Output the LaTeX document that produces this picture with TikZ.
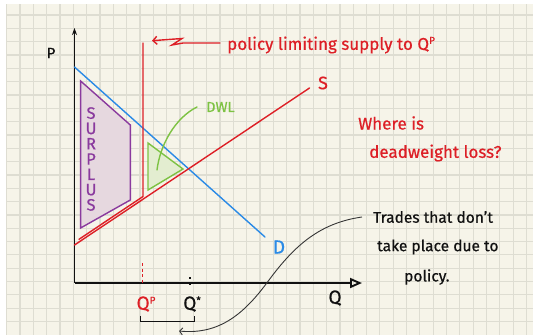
\documentclass[tikz,border=0pt]{standalone}
\usepackage{fontspec}
\setmainfont{Fira Sans}[UprightFeatures={FakeBold=0.6}]
\usepackage{tikz}
\usetikzlibrary{arrows.meta,positioning,calc}
\definecolor{Paper}{HTML}{F6F4E9}
\definecolor{GridLine}{HTML}{DEDDD2}
\definecolor{PenRed}{HTML}{DD1F26}
\definecolor{PenBlue}{HTML}{2A8AE6}
\definecolor{PenPurple}{HTML}{8A3A9E}
\definecolor{SoftPurple}{HTML}{E6D8DF}
\definecolor{PenGreen}{HTML}{7DC243}
\definecolor{SoftGreen}{HTML}{E3EDD0}
\definecolor{Ink}{HTML}{111111}
\newcommand{\handsize}[1]{\fontsize{#1}{#1}\selectfont}
\newcommand{\supscr}[1]{\raisebox{6pt}{\handsize{10}#1}}

\begin{document}
\begin{tikzpicture}[x=1pt,y=-1pt,
  hand/.style={inner sep=0pt,font=\handsize{17}},
  note/.style={hand,anchor=west},
  pen/.style={line width=1.4pt,line cap=round},
  axis/.style={line width=1.9pt,draw=Ink},
  pointer/.style={line width=0.9pt,draw=Ink!85}
]
\useasboundingbox (0,0) rectangle (533,335);
\fill[white] (0,0) rectangle (533,335);
\fill[Paper] (6,4) rectangle (533,335);
\foreach \k in {0,...,39}
  \draw[GridLine,line width=1.1pt] ({6.7+13.33*\k},4) -- ({6.7+13.33*\k},335);
\foreach \k in {0,...,23}
  \draw[GridLine,line width=1.1pt] (6,{15+13.33*\k}) -- (533,{15+13.33*\k});

\coordinate (origin) at (74.5,283);
\coordinate (ptop) at (74.5,28);
\coordinate (qend) at (362,283);
\coordinate (dstart) at (74.5,67);
\coordinate (dend) at (265,237);
\coordinate (sstart) at (74.5,245);
\coordinate (send) at (309.5,88);
\coordinate (captop) at (143,43);
\coordinate (capfoot) at (143,196.5);
\coordinate (capend) at (79,239.3);

\filldraw[fill=SoftPurple,draw=PenPurple,pen] (80.6,81) -- (130.3,125) -- (130.3,200) -- (80.6,228) -- cycle;
\filldraw[fill=SoftGreen,draw=PenGreen,pen] (148,143) -- (183,169) -- (148,190) -- cycle;

\draw[axis,-{Stealth[length=7pt,width=5pt]}] (origin) -- (ptop);
\draw[axis,-{Triangle[open,length=12pt,width=10pt]}] (origin) -- (qend);

\draw[pen,PenBlue] (dstart) -- (dend);
\draw[pen,PenRed] (sstart) -- (send);
\draw[pen,PenRed] (captop) -- (capfoot) -- (capend);

\node[hand,align=center,font=\fontsize{16.5}{15.3}\selectfont,text=PenPurple] (surplus) at (91,159) {S\\U\\R\\P\\L\\U\\S};

\node[hand,text=Ink,font=\handsize{15}] (plabel) at (51,53) {P};
\node[hand,text=Ink,font=\handsize{19}] (qlabel) at (335,298) {Q};
\node[hand,text=PenRed,font=\handsize{18}] (slabel) at (323,83) {S};
\node[hand,text=PenBlue,font=\handsize{19}] (dlabel) at (279,247) {D};
\node[hand,text=PenRed,font=\handsize{19}] (qp) at (146,304) {Q\supscr{P}};
\node[hand,text=Ink,font=\handsize{19}] (qstar) at (192,304) {Q\supscr{*}};

\draw[PenRed,line width=1.2pt,dash pattern=on 3pt off 2.5pt] (142.5,263) -- (142.5,283);
\draw[Ink,line width=1.2pt,dash pattern=on 2pt off 4pt] (190,277) -- (190,287);
\draw[Ink,line width=1pt] ([xshift=4pt,yshift=-4pt]qp.south west) |- ([xshift=-6pt,yshift=-9.5pt]qstar.south east) -- ([xshift=-6pt,yshift=-4pt]qstar.south east);

\node[note,text=PenRed] (policy) at (227,45) {policy limiting supply to Q\supscr{P}};
\draw[pen,PenRed,-{Straight Barb[length=4pt,width=8pt]}] ([xshift=-7pt,yshift=2pt]policy.west) -- (183,43) -- (172,45) -- (182,38.5) -- (152,40.7);

\node[note,text=PenGreen,font=\handsize{14.5}] (dwl) at (206,107) {DWL};
\draw[pen,PenGreen] ([xshift=-9pt]dwl.west) .. controls (175,118) and (160,145) .. (157,170);

\node[note,text=PenRed] (where) at (358,123) {Where is};
\node[note,text=PenRed] (deadweight) at (369,153) {deadweight loss?};

\node[note,text=Ink,font=\handsize{15.5}] (trades) at (373,217) {Trades that don't};
\node[note,text=Ink,font=\handsize{15.5}] (takeplace) at (377,247) {take place due to};
\node[note,text=Ink,font=\handsize{15.5}] (policydot) at (404,277) {policy.};
\draw[pointer,-{Straight Barb[length=3pt,width=7pt]}] ([xshift=-11pt]trades.west) .. controls (320,223) and (295,245) .. (269,280) .. controls (245,313) and (220,335) .. (179,331);
\end{tikzpicture}
\end{document}
